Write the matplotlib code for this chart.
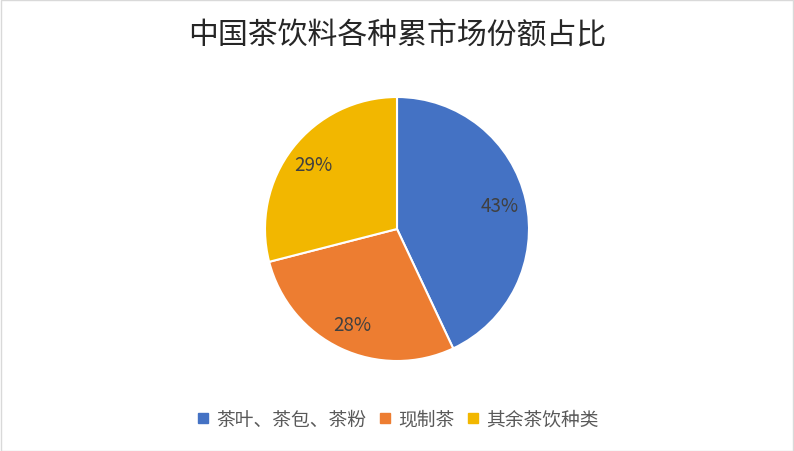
import matplotlib
matplotlib.use("Agg")
import matplotlib.pyplot as plt
from matplotlib.patches import Rectangle
from matplotlib.lines import Line2D

plt.rcParams['font.family'] = ['Noto Sans CJK SC', 'DejaVu Sans']

title = "中国茶饮料各种累市场份额占比"
categories = ["茶叶、茶包、茶粉", "现制茶", "其余茶饮种类"]
values = [43, 28, 29]
colors = ["#4472C4", "#ED7D31", "#F2B700"]

W, H = 794, 452
fig = plt.figure(figsize=(W / 100, H / 100), dpi=100)
fig.patch.set_facecolor("white")
fig.patches.append(Rectangle((0.5 / W, 0.5 / H), 1 - 1.5 / W, 1 - 1.5 / H, transform=fig.transFigure,
                             fill=False, edgecolor="#D9D9D9", linewidth=1))

cx, cy, r = 397, 230, 132
ax = fig.add_axes([(cx - r) / W, (H - cy - r) / H, 2 * r / W, 2 * r / H])
wedges, texts, autotexts = ax.pie(values, colors=colors, startangle=90, counterclock=False,
                                  autopct="%d%%", pctdistance=0.8, radius=1,
                                  wedgeprops=dict(edgecolor="white", linewidth=1.5),
                                  textprops=dict(color="#404040", fontsize=13.5))
ax.set_xlim(-1, 1)
ax.set_ylim(-1, 1)
ax.set_aspect('equal')
ax.axis('off')

fig.text(0.5, 1 - 36 / H, title, ha="center", va="center", fontsize=21.5, color="#262626",
         fontweight="medium")

handles = [Line2D([0], [0], marker="s", linestyle="none", markersize=7, markerfacecolor=c,
                  markeredgecolor=c) for c in colors]
fig.legend(handles, categories, loc="center", bbox_to_anchor=(0.5, 1 - 420 / H), ncol=3,
           frameon=False, fontsize=13.5, handlelength=0.8, handletextpad=0.3, columnspacing=0.6,
           labelcolor="#595959")

fig.savefig("out.png", dpi=100)
